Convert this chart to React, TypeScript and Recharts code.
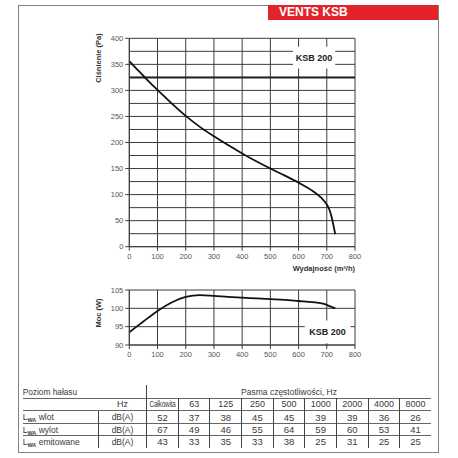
import React from 'react';
import { LineChart, Line, XAxis, YAxis, CartesianGrid, ReferenceLine, ReferenceArea } from 'recharts';

// ---------- data ----------
const flowTicks = [0, 100, 200, 300, 400, 500, 600, 700, 800];
const pressureTicks = [0, 25, 50, 75, 100, 125, 150, 175, 200, 225, 250, 275, 300, 325, 350, 375, 400];
const powerTicks = [90, 95, 100, 105];

const pressureFlow = [0, 25, 50, 75, 100, 150, 200, 250, 300, 350, 400, 450, 500, 550, 600, 650, 680, 700, 710, 718, 724, 730];
const pressureValues = [356, 342, 328, 314, 301, 275, 251, 230, 212, 195, 179, 164, 150, 137, 123, 107, 94, 81, 70, 55, 40, 24];

const powerFlow = [0, 50, 100, 150, 200, 250, 300, 350, 400, 450, 500, 550, 600, 650, 690, 710, 730];
const powerValues = [93.5, 96.4, 99.3, 101.6, 103.1, 103.6, 103.4, 103.1, 102.9, 102.7, 102.5, 102.3, 102.0, 101.7, 101.2, 100.6, 100.0];

const ratedPressure = 325;
const modelName = 'KSB 200';

const noiseBands = ['Całkowita', '63', '125', '250', '500', '1000', '2000', '4000', '8000'];
const noiseRowNames = ['wlot', 'wylot', 'emitowane'];
const noiseInlet = [52, 37, 38, 45, 45, 39, 39, 36, 26];
const noiseOutlet = [67, 49, 46, 55, 64, 59, 60, 53, 41];
const noiseEmitted = [43, 33, 35, 33, 38, 25, 31, 25, 25];

const pressureData = pressureFlow.map((f, i) => ({ flow: f, pressure: pressureValues[i] }));
const powerData = powerFlow.map((f, i) => ({ flow: f, power: powerValues[i] }));
const noiseValues = [noiseInlet, noiseOutlet, noiseEmitted];

// ---------- styles ----------
const GRID = '#3c3c3c';
const TICK_FILL = '#555';
const FONT = '"Liberation Sans", Arial, Helvetica, sans-serif';

const PressureTick = (props: any) => {
  const { x, y, payload } = props;
  const v = payload.value;
  if (v % 50 !== 0) return <g />;
  return (
    <g>
      <line x1={x + 2} x2={x + 6} y1={y} y2={y} stroke={GRID} strokeWidth={1} />
      <text x={x} y={y} dy={2.7} textAnchor="end" fontSize={7.5} fill={TICK_FILL}>
        {v}
      </text>
    </g>
  );
};

const tickStyle = { fontSize: 7.5, fill: TICK_FILL };

// table geometry
const tableLeft = 22.7;
const unitColL = 98.3;
const bandL = 146.7;
const bandW = 31.63;
const tableRight = bandL + bandW * 9;
const rows = [385, 398.3, 410.5, 423.5, 435.5, 448];
const LINE = '#666';
const TXT = '#3a3a3a';

const Cell = ({ left, top, width, height, children, align = 'center', style = {} }: any) => (
  <div
    style={{
      position: 'absolute',
      left,
      top,
      width,
      height,
      display: 'flex',
      alignItems: 'center',
      justifyContent: align === 'center' ? 'center' : 'flex-start',
      fontSize: 8.5,
      color: TXT,
      whiteSpace: 'nowrap',
      ...style,
    }}
  >
    {children}
  </div>
);

const HLine = ({ y, x1, x2 }: any) => (
  <div style={{ position: 'absolute', left: x1, top: y - 0.5, width: x2 - x1, height: 1, background: LINE }} />
);
const VLine = ({ x, y1, y2, color = LINE }: any) => (
  <div style={{ position: 'absolute', left: x - 0.5, top: y1, width: 1, height: y2 - y1, background: color }} />
);

export default function App() {
  return (
    <div style={{ position: 'absolute', left: 0, top: 0, width: 458, height: 458, background: '#fff', fontFamily: FONT }}>
      {/* frame */}
      <div style={{ position: 'absolute', left: 18, top: 5, width: 419, height: 446, border: '1px solid #808080' }} />
      {/* banner */}
      <div
        style={{
          position: 'absolute',
          left: 268,
          top: 5,
          width: 170,
          height: 15,
          background: '#e3232a',
          color: '#fff',
          fontWeight: 'bold',
          fontSize: 12,
          lineHeight: '15px',
          paddingLeft: 11,
          boxSizing: 'border-box',
        }}
      >
        VENTS KSB
      </div>

      {/* pressure chart */}
      <div style={{ position: 'absolute', left: 0, top: 0, width: 458, height: 275 }}>
        <LineChart width={458} height={275} data={pressureData} margin={{ top: 38.3, right: 103, bottom: 8.3, left: 0 }}>
          <CartesianGrid stroke={GRID} strokeWidth={1} />
          <XAxis
            dataKey="flow"
            type="number"
            domain={[0, 800]}
            ticks={flowTicks}
            interval={0}
            height={20}
            tick={tickStyle}
            tickSize={4}
            tickMargin={3}
            stroke={GRID}
          />
          <YAxis
            type="number"
            domain={[0, 400]}
            ticks={pressureTicks}
            interval={0}
            width={129.3}
            tick={PressureTick}
            tickLine={false}
            tickSize={4}
            tickMargin={2}
            stroke={GRID}
          />
          <ReferenceLine y={ratedPressure} stroke="#222" strokeWidth={2} />
          <ReferenceArea
            x1={580}
            x2={730}
            y1={342}
            y2={384}
            fill="#fff"
            fillOpacity={1}
            stroke="none"
            label={{ value: modelName, position: 'center', fontSize: 9, fontWeight: 'bold', fill: '#222' }}
          />
          <Line
            type="monotone"
            dataKey="pressure"
            stroke="#111"
            strokeWidth={1.8}
            dot={false}
            isAnimationActive={false}
          />
        </LineChart>
      </div>

      {/* power chart */}
      <div style={{ position: 'absolute', left: 0, top: 275, width: 458, height: 90 }}>
        <LineChart width={458} height={90} data={powerData} margin={{ top: 15, right: 103, bottom: 0, left: 0 }}>
          <CartesianGrid stroke={GRID} strokeWidth={1} />
          <XAxis
            dataKey="flow"
            type="number"
            domain={[0, 800]}
            ticks={flowTicks}
            interval={0}
            height={20}
            tick={tickStyle}
            tickSize={4}
            tickMargin={3}
            stroke={GRID}
          />
          <YAxis
            type="number"
            domain={[90, 105]}
            ticks={powerTicks}
            interval={0}
            width={129.3}
            tick={tickStyle}
            tickSize={4}
            tickMargin={2}
            stroke={GRID}
          />
          <ReferenceArea
            x1={622}
            x2={784}
            y1={90.5}
            y2={96.7}
            fill="#fff"
            fillOpacity={1}
            stroke="none"
            label={{ value: modelName, position: 'center', fontSize: 9, fontWeight: 'bold', fill: '#222' }}
          />
          <Line
            type="monotone"
            dataKey="power"
            stroke="#111"
            strokeWidth={1.8}
            dot={false}
            isAnimationActive={false}
          />
        </LineChart>
      </div>

      {/* axis titles */}
      <svg width={458} height={458} style={{ position: 'absolute', left: 0, top: 0, pointerEvents: 'none' }}>
        <text
          x={98.5}
          y={58}
          transform="rotate(-90 98.5 58)"
          textAnchor="middle"
          dominantBaseline="central"
          fontSize={7.5}
          fontWeight="bold"
          fill="#333"
        >
          Ciśnienie (Pa)
        </text>
        <text
          x={98.5}
          y={313}
          transform="rotate(-90 98.5 313)"
          textAnchor="middle"
          dominantBaseline="central"
          fontSize={7.5}
          fontWeight="bold"
          fill="#333"
        >
          Moc (W)
        </text>
        <text x={355} y={268} textAnchor="end" dominantBaseline="central" fontSize={7.5} fontWeight="bold" fill="#333">
          Wydajność (m³/h)
        </text>
      </svg>

      {/* noise table */}
      <Cell left={tableLeft} top={rows[0]} width={120} height={rows[1] - rows[0]} align="left" style={{ fontSize: 8.3 }}>
        Poziom hałasu
      </Cell>
      <Cell left={bandL} top={rows[0]} width={tableRight - bandL} height={rows[1] - rows[0]} style={{ fontSize: 8.5 }}>
        Pasma częstotliwości, Hz
      </Cell>
      <Cell left={unitColL} top={rows[1]} width={bandL - unitColL} height={rows[2] - rows[1]} style={{ fontSize: 9 }}>
        Hz
      </Cell>
      {noiseBands.map((b, i) => (
        <Cell
          key={b}
          left={bandL + i * bandW}
          top={rows[1]}
          width={bandW}
          height={rows[2] - rows[1]}
          style={{ fontSize: 9 }}
        >
          {i === 0 ? (
            <span style={{ display: 'inline-block', transform: 'scaleX(0.7)', letterSpacing: -0.2 }}>{b}</span>
          ) : (
            b
          )}
        </Cell>
      ))}
      {noiseRowNames.map((name, r) => (
        <React.Fragment key={name}>
          <Cell left={tableLeft} top={rows[r + 2]} width={76} height={rows[r + 3] - rows[r + 2]} align="left">
            <span>
              L
              <span style={{ fontSize: 5.5, fontWeight: 'bold', position: 'relative', top: 2 }}>WA</span>
              {' ' + name}
            </span>
          </Cell>
          <Cell left={unitColL} top={rows[r + 2]} width={bandL - unitColL} height={rows[r + 3] - rows[r + 2]}>
            dB(A)
          </Cell>
          {noiseValues[r].map((v, i) => (
            <Cell
              key={i}
              left={bandL + i * bandW}
              top={rows[r + 2]}
              width={bandW}
              height={rows[r + 3] - rows[r + 2]}
              style={{ fontSize: 9.5 }}
            >
              {v}
            </Cell>
          ))}
        </React.Fragment>
      ))}
      {[rows[1], rows[2], rows[3], rows[4]].map((y) => (
        <HLine key={y} y={y} x1={tableLeft} x2={tableRight} />
      ))}
      <VLine x={bandL} y1={rows[0]} y2={rows[5]} color="#444" />
      <VLine x={unitColL} y1={rows[2]} y2={rows[5]} color="#444" />
      {noiseBands.slice(1).map((b, i) => (
        <VLine key={b} x={bandL + (i + 1) * bandW} y1={rows[1]} y2={rows[5]} color="#444" />
      ))}
    </div>
  );
}
